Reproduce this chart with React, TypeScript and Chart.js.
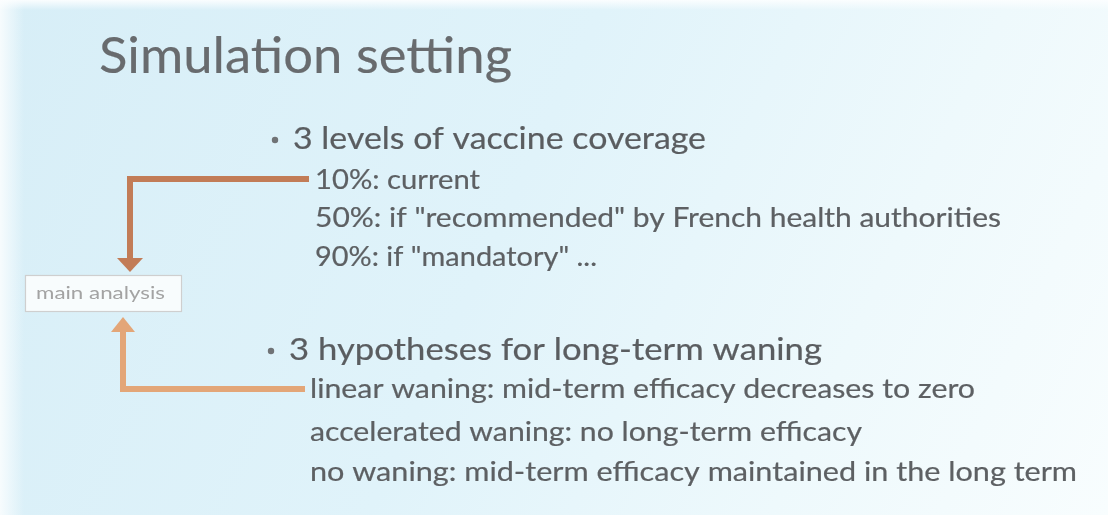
import React, { useEffect, useRef } from "react";
import { Chart, registerables } from "chart.js";

Chart.register(...registerables);

// ---- content (text only) ----
const titleText = "Simulation setting";
const headings = ["3 levels of vaccine coverage", "3 hypotheses for long-term waning"];
const coverageItems = [
  "10%: current",
  '50%: if "recommended" by French health authorities',
  '90%: if "mandatory" ...',
];
const waningItems = [
  "linear waning: mid-term efficacy decreases to zero",
  "accelerated waning: no long-term efficacy",
  "no waning: mid-term efficacy maintained in the long term",
];
const boxLabel = "main analysis";

// ---- layout (positions in slide units, mapped through the chart scales) ----
const W = 1108;
const H = 515;
const FONT = "Lato, 'Open Sans', sans-serif";

type Line = { text: string; x: number; y: number; w: number; size: number; color: string; stroke?: number };

function buildLines(): Line[] {
  const lines: Line[] = [];
  lines.push({ text: titleText, x: 99, y: 73, w: 413, size: 51, color: "#686b6e", stroke: 0.15 });
  const headX = [293, 289];
  const headY = [149, 360];
  const headW = [413, 533];
  headings.forEach((t, i) =>
    lines.push({ text: t, x: headX[i], y: headY[i], w: headW[i], size: 31, color: "#5a5d60", stroke: 0.2 })
  );
  const covY = [189, 227, 266];
  const covW = [165, 686, 282];
  coverageItems.forEach((t, i) =>
    lines.push({ text: t, x: 315, y: covY[i], w: covW[i], size: 27, color: "#5d6063", stroke: 0.2 })
  );
  const wanY = [398, 441, 481];
  const wanW = [665, 552, 767];
  waningItems.forEach((t, i) =>
    lines.push({ text: t, x: 310, y: wanY[i], w: wanW[i], size: 27, color: "#5d6063", stroke: 0.2 })
  );
  return lines;
}

const slidePlugin = {
  id: "slide",
  beforeDraw(chart: any) {
    const ctx: CanvasRenderingContext2D = chart.ctx;
    const sx = chart.scales.x;
    const sy = chart.scales.y;
    const px = (v: number) => sx.getPixelForValue(v);
    const py = (v: number) => sy.getPixelForValue(v);

    ctx.save();
    // background
    const g = ctx.createLinearGradient(px(0), py(0), px(W), py(H));
    g.addColorStop(0, "#d7eef7");
    g.addColorStop(0.45, "#e0f3fa");
    g.addColorStop(0.75, "#eef9fc");
    g.addColorStop(1, "#f8fdfe");
    ctx.fillStyle = g;
    ctx.fillRect(px(0), py(0), px(W) - px(0), py(H) - py(0));
    // whitish frame edges
    const gl = ctx.createLinearGradient(px(0), 0, px(24), 0);
    gl.addColorStop(0, "rgba(250,253,254,0.9)");
    gl.addColorStop(1, "rgba(250,253,254,0)");
    ctx.fillStyle = gl;
    ctx.fillRect(px(0), py(0), px(24) - px(0), py(H) - py(0));
    const gt = ctx.createLinearGradient(0, py(0), 0, py(10));
    gt.addColorStop(0, "rgba(252,254,255,0.95)");
    gt.addColorStop(1, "rgba(252,254,255,0)");
    ctx.fillStyle = gt;
    ctx.fillRect(px(0), py(0), px(W) - px(0), py(10) - py(0));

    // arrows
    const arrow = (pts: number[][], head: number[][], color: string) => {
      ctx.strokeStyle = color;
      ctx.lineWidth = 6;
      ctx.lineJoin = "miter";
      ctx.beginPath();
      pts.forEach((p, i) => (i ? ctx.lineTo(px(p[0]), py(p[1])) : ctx.moveTo(px(p[0]), py(p[1]))));
      ctx.stroke();
      ctx.fillStyle = color;
      ctx.beginPath();
      head.forEach((p, i) => (i ? ctx.lineTo(px(p[0]), py(p[1])) : ctx.moveTo(px(p[0]), py(p[1]))));
      ctx.closePath();
      ctx.fill();
    };
    arrow(
      [[309, 179], [130, 179], [130, 259]],
      [[117, 258], [143, 258], [130, 272]],
      "#c27c57"
    );
    arrow(
      [[305, 389], [123, 389], [123, 331]],
      [[111, 332], [135, 332], [123, 317]],
      "#e3a678"
    );

    // box
    ctx.fillStyle = "rgba(253,254,254,0.85)";
    ctx.fillRect(px(25), py(275), px(181) - px(25), py(311) - py(275));
    ctx.strokeStyle = "#cfcfcf";
    ctx.lineWidth = 1.2;
    ctx.strokeRect(px(25) + 0.5, py(275) + 0.5, px(181) - px(25), py(311) - py(275));

    const drawText = (l: Line) => {
      ctx.font = `${l.size}px ${FONT}`;
      ctx.fillStyle = l.color;
      ctx.strokeStyle = l.color;
      ctx.textBaseline = "alphabetic";
      ctx.textAlign = "left";
      const natural = ctx.measureText(l.text).width;
      const k = (px(l.x + l.w) - px(l.x)) / natural;
      ctx.save();
      ctx.translate(px(l.x), py(l.y));
      ctx.scale(k, 1);
      ctx.fillText(l.text, 0, 0);
      if (l.stroke) {
        ctx.lineWidth = l.stroke;
        ctx.lineJoin = "round";
        ctx.strokeText(l.text, 0, 0);
      }
      ctx.restore();
    };

    drawText({ text: boxLabel, x: 36, y: 299, w: 129, size: 17, color: "#a3a3a3" });

    // bullets
    ctx.fillStyle = "#707376";
    [[275, 140], [271, 351]].forEach((b) => {
      ctx.beginPath();
      ctx.arc(px(b[0]), py(b[1]), 3.2, 0, Math.PI * 2);
      ctx.fill();
    });

    buildLines().forEach(drawText);
    ctx.restore();
  },
};

export default function App() {
  const ref = useRef<HTMLCanvasElement | null>(null);
  useEffect(() => {
    if (!ref.current) return;
    const chart = new Chart(ref.current, {
      type: "scatter",
      data: { datasets: [{ data: [], pointRadius: 0 }] },
      options: {
        animation: false,
        responsive: true,
        maintainAspectRatio: false,
        layout: { padding: 0 },
        plugins: { legend: { display: false }, tooltip: { enabled: false } },
        scales: {
          x: { type: "linear", min: 0, max: W, display: false },
          y: { type: "linear", min: 0, max: H, reverse: true, display: false },
        },
      },
      plugins: [slidePlugin],
    });
    return () => chart.destroy();
  }, []);
  return (
    <div style={{ position: "fixed", left: 0, top: 0, width: W, height: H }}>
      <canvas ref={ref} />
    </div>
  );
}
